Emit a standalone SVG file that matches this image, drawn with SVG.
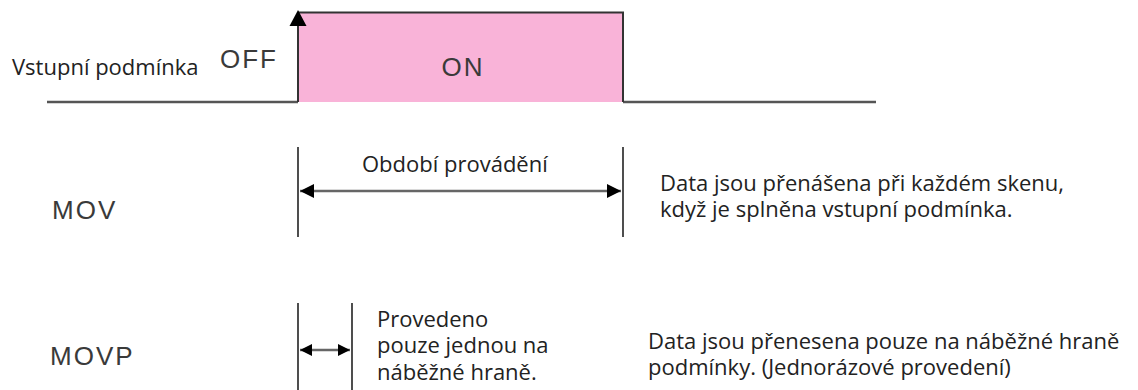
<svg xmlns="http://www.w3.org/2000/svg" width="1138" height="390" viewBox="0 0 1138 390">
<defs>
<style>
.t{font-family:"Open Sans","Noto Sans","DejaVu Sans",sans-serif;font-size:22px;fill:#222}
.g{font-family:"Liberation Sans",Arial,sans-serif;font-size:26px;letter-spacing:2px;fill:#3a3a3a}
.sig{stroke:#555;stroke-width:2.5;fill:none}
.vl{stroke:#222;stroke-width:1.6;fill:none}
.dim{stroke:#666;stroke-width:2.5;fill:none}
</style>
<marker id="ah" viewBox="0 0 10 10" refX="10" refY="5" markerWidth="14" markerHeight="15" markerUnits="userSpaceOnUse" orient="auto-start-reverse">
<path d="M0,0 L10,5 L0,10 Z" fill="#000"/>
</marker>
<marker id="ahs" viewBox="0 0 10 10" refX="10" refY="5" markerWidth="13" markerHeight="12" markerUnits="userSpaceOnUse" orient="auto-start-reverse">
<path d="M0,0 L10,5 L0,10 Z" fill="#000"/>
</marker>
</defs>
<rect width="1138" height="390" fill="#fff"/>

<g id="signal">
<rect x="298" y="12.5" width="325" height="89.5" fill="#f9b3d8"/>
<path class="sig" d="M47,102 H298"/>
<path class="sig" d="M623,102 H876"/>
<path d="M298,102 V24 M298,12.5 H623 V102" stroke="#333" stroke-width="2" fill="none"/>
<path d="M298,10 L289.5,26 L306.5,26 Z" fill="#000"/>
</g>

<g id="labels">
<text class="t" x="12" y="75">Vstupní podmínka</text>
<text class="g" x="220" y="68">OFF</text>
<text class="g" x="463" y="76" text-anchor="middle">ON</text>
<text class="g" x="52" y="219">MOV</text>
<text class="g" x="50" y="365">MOVP</text>
</g>

<g id="connectors">
<path class="vl" d="M298,147 V237"/>
<path class="vl" d="M623,147 V237"/>
<path class="dim" d="M300,191 H621" marker-start="url(#ah)" marker-end="url(#ah)"/>
<path class="vl" d="M298,303 V390"/>
<path class="vl" d="M352,303 V390"/>
<path class="dim" d="M300,350 H350" marker-start="url(#ahs)" marker-end="url(#ahs)"/>
</g>

<g id="notes">
<text class="t" x="362" y="172">Období provádění</text>
<text class="t" x="660" y="191">Data jsou přenášena při každém skenu,</text>
<text class="t" x="660" y="217">když je splněna vstupní podmínka.</text>
<text class="t" x="377" y="327">Provedeno</text>
<text class="t" x="377" y="353">pouze jednou na</text>
<text class="t" x="377" y="380">náběžné hraně.</text>
<text class="t" x="648" y="349">Data jsou přenesena pouze na náběžné hraně</text>
<text class="t" x="648" y="375">podmínky. (Jednorázové provedení)</text>
</g>
</svg>
